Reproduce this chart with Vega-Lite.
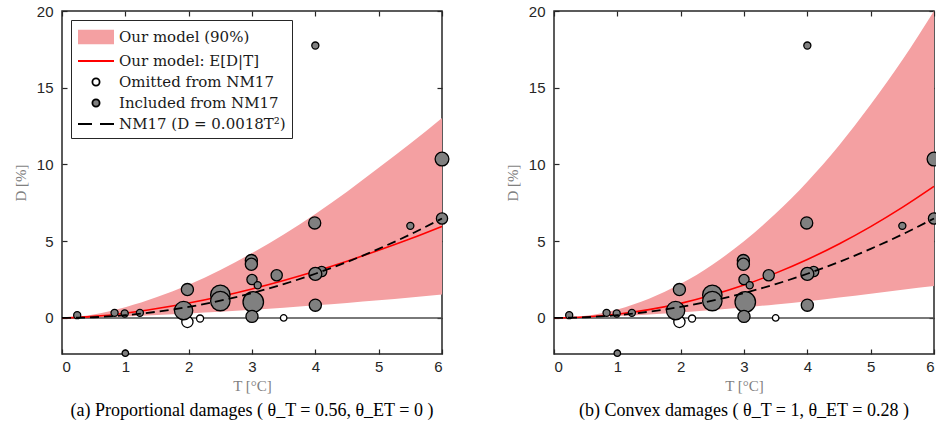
{
  "$schema": "https://vega.github.io/schema/vega-lite/v6.json",
  "background": "white",
  "padding": {"left": 12, "top": 3, "right": 0, "bottom": 0},
  "spacing": 112,
  "bounds": "flush",
  "config": {
    "view": {"stroke": "#262626", "strokeWidth": 1.5},
    "axis": {
      "domain": false,
      "tickColor": "#262626",
      "tickWidth": 1.2,
      "labelFont": "Liberation Sans Narrow, Liberation Sans",
      "labelFontSize": 15,
      "labelColor": "#262626",
      "titleFont": "Liberation Serif",
      "titleFontSize": 15,
      "titleFontWeight": "normal",
      "titleColor": "#7f7f7f",
      "grid": false
    },
    "title": {"font": "Liberation Serif", "fontSize": 18, "fontWeight": "normal", "color": "black"}
  },
  "datasets": {
    "curves": [
      {"model": "a", "T": 0, "lo": 0, "mean": 0, "hi": 0, "nm": 0},
      {"model": "a", "T": 0.5, "lo": 0.035, "mean": 0.1, "hi": 0.23, "nm": 0.045},
      {"model": "a", "T": 1, "lo": 0.1, "mean": 0.31, "hi": 0.7, "nm": 0.18},
      {"model": "a", "T": 1.5, "lo": 0.185, "mean": 0.61, "hi": 1.36, "nm": 0.405},
      {"model": "a", "T": 2, "lo": 0.29, "mean": 0.97, "hi": 2.17, "nm": 0.72},
      {"model": "a", "T": 2.5, "lo": 0.4, "mean": 1.4, "hi": 3.13, "nm": 1.125},
      {"model": "a", "T": 3, "lo": 0.53, "mean": 1.89, "hi": 4.23, "nm": 1.62},
      {"model": "a", "T": 3.5, "lo": 0.67, "mean": 2.44, "hi": 5.44, "nm": 2.205},
      {"model": "a", "T": 4, "lo": 0.82, "mean": 3.04, "hi": 6.78, "nm": 2.88},
      {"model": "a", "T": 4.5, "lo": 0.98, "mean": 3.7, "hi": 8.23, "nm": 3.645},
      {"model": "a", "T": 5, "lo": 1.15, "mean": 4.41, "hi": 9.78, "nm": 4.5},
      {"model": "a", "T": 5.5, "lo": 1.33, "mean": 5.16, "hi": 11.36, "nm": 5.445},
      {"model": "a", "T": 6, "lo": 1.52, "mean": 5.97, "hi": 13.03, "nm": 6.48},
      {"model": "b", "T": 0, "lo": 0, "mean": 0, "hi": 0, "nm": 0},
      {"model": "b", "T": 0.5, "lo": 0.04, "mean": 0.06, "hi": 0.14, "nm": 0.045},
      {"model": "b", "T": 1, "lo": 0.12, "mean": 0.24, "hi": 0.555, "nm": 0.18},
      {"model": "b", "T": 1.5, "lo": 0.23, "mean": 0.54, "hi": 1.25, "nm": 0.405},
      {"model": "b", "T": 2, "lo": 0.36, "mean": 0.95, "hi": 2.22, "nm": 0.72},
      {"model": "b", "T": 2.5, "lo": 0.52, "mean": 1.49, "hi": 3.47, "nm": 1.125},
      {"model": "b", "T": 3, "lo": 0.68, "mean": 2.14, "hi": 5.0, "nm": 1.62},
      {"model": "b", "T": 3.5, "lo": 0.88, "mean": 2.92, "hi": 6.8, "nm": 2.205},
      {"model": "b", "T": 4, "lo": 1.09, "mean": 3.81, "hi": 8.88, "nm": 2.88},
      {"model": "b", "T": 4.5, "lo": 1.33, "mean": 4.82, "hi": 11.24, "nm": 3.645},
      {"model": "b", "T": 5, "lo": 1.58, "mean": 5.95, "hi": 13.9, "nm": 4.5},
      {"model": "b", "T": 5.5, "lo": 1.84, "mean": 7.2, "hi": 16.8, "nm": 5.445},
      {"model": "b", "T": 6, "lo": 2.08, "mean": 8.57, "hi": 20.0, "nm": 6.48}
    ],
    "points": [
      {"grp": "Omitted", "T": 1.98, "D": -0.26, "w": 3},
      {"grp": "Omitted", "T": 2.18, "D": -0.04, "w": 1.2},
      {"grp": "Omitted", "T": 3.5, "D": 0.0, "w": 1},
      {"grp": "Included", "T": 0.24, "D": 0.18, "w": 1.2},
      {"grp": "Included", "T": 0.83, "D": 0.33, "w": 1.2},
      {"grp": "Included", "T": 0.99, "D": 0.29, "w": 1.2},
      {"grp": "Included", "T": 1.23, "D": 0.33, "w": 1.2},
      {"grp": "Included", "T": 1.0, "D": -2.3, "w": 1},
      {"grp": "Included", "T": 1.98, "D": 1.85, "w": 3.5},
      {"grp": "Included", "T": 1.92, "D": 0.48, "w": 8},
      {"grp": "Included", "T": 2.5, "D": 1.5, "w": 9},
      {"grp": "Included", "T": 2.5, "D": 1.1, "w": 9},
      {"grp": "Included", "T": 2.99, "D": 3.74, "w": 3.5},
      {"grp": "Included", "T": 2.99, "D": 3.5, "w": 3.5},
      {"grp": "Included", "T": 3.0, "D": 2.5, "w": 2.5},
      {"grp": "Included", "T": 3.09, "D": 2.13, "w": 1.2},
      {"grp": "Included", "T": 3.02, "D": 1.04, "w": 10},
      {"grp": "Included", "T": 3.0, "D": 0.1, "w": 3.5},
      {"grp": "Included", "T": 3.39, "D": 2.78, "w": 3},
      {"grp": "Included", "T": 3.99, "D": 6.19, "w": 3.5},
      {"grp": "Included", "T": 4.1, "D": 3.02, "w": 2.5},
      {"grp": "Included", "T": 4.0, "D": 2.87, "w": 4},
      {"grp": "Included", "T": 4.0, "D": 0.83, "w": 3.5},
      {"grp": "Included", "T": 4.0, "D": 17.75, "w": 1.2},
      {"grp": "Included", "T": 5.5, "D": 6.0, "w": 1.2},
      {"grp": "Included", "T": 6.0, "D": 6.48, "w": 3},
      {"grp": "Included", "T": 6.0, "D": 10.35, "w": 4.5}
    ],
    "keys": [
      {"s": "Our model (90%)"},
      {"s": "Our model: E[D|T]"},
      {"s": "Omitted from NM17"},
      {"s": "Included from NM17"},
      {"s": "NM17 (D = 0.0018T²)"}
    ]
  },
  "hconcat": [
    {
      "width": 380,
      "height": 343,
      "title": {"text": "(a) Proportional damages ( θ_T = 0.56, θ_ET = 0 )", "orient": "bottom", "offset": 9},
      "resolve": {"axis": {"x": "independent", "y": "independent"}},
      "layer": [
        {
          "data": {"name": "curves"},
          "transform": [{"filter": "datum.model == 'a'"}],
          "mark": {"type": "area", "color": "#f4a0a2", "interpolate": "monotone"},
          "encoding": {
            "x": {"field": "T", "type": "quantitative", "scale": {"domain": [0, 6], "nice": false},
              "axis": {"orient": "bottom", "values": [0, 1, 2, 3, 4, 5, 6], "tickSize": -5, "labelPadding": 10, "title": "T [°C]", "titlePadding": 4}},
            "y": {"field": "lo", "type": "quantitative", "scale": {"domain": [-2.35, 20], "nice": false},
              "axis": {"orient": "left", "values": [0, 5, 10, 15, 20], "tickSize": -5, "labelPadding": 14, "title": "D [%]", "titlePadding": 8}},
            "y2": {"field": "hi"}
          }
        },
        {
          "data": {"values": [{}]},
          "mark": {"type": "rule", "color": "#4d4d4d", "strokeWidth": 1.5},
          "encoding": {"y": {"datum": 0, "type": "quantitative", "axis": null}}
        },
        {
          "data": {"name": "curves"},
          "transform": [{"filter": "datum.model == 'a'"}],
          "mark": {"type": "line", "color": "#ff0000", "strokeWidth": 1.6, "interpolate": "monotone"},
          "encoding": {
            "x": {"field": "T", "type": "quantitative",
              "axis": {"orient": "top", "values": [0, 1, 2, 3, 4, 5, 6], "tickSize": -5, "labels": false, "title": null}},
            "y": {"field": "mean", "type": "quantitative",
              "axis": {"orient": "right", "values": [0, 5, 10, 15, 20], "tickSize": -5, "labels": false, "title": null}}
          }
        },
        {
          "data": {"name": "points"},
          "mark": {"type": "circle", "opacity": 1, "stroke": "black", "strokeWidth": 1.3},
          "encoding": {
            "x": {"field": "T", "type": "quantitative", "axis": null},
            "y": {"field": "D", "type": "quantitative", "axis": null},
            "size": {"field": "w", "type": "quantitative", "scale": {"domain": [0, 10], "range": [0, 420]}, "legend": null},
            "fill": {"condition": {"test": "datum.grp == 'Omitted'", "value": "white"}, "value": "#808080"}
          }
        },
        {
          "data": {"name": "curves"},
          "transform": [{"filter": "datum.model == 'a'"}],
          "mark": {"type": "line", "color": "black", "strokeWidth": 1.8, "strokeDash": [9, 5], "interpolate": "monotone"},
          "encoding": {
            "x": {"field": "T", "type": "quantitative", "axis": null},
            "y": {"field": "nm", "type": "quantitative", "axis": null}
          }
        },
        {
          "data": {"name": "keys"},
          "mark": {"type": "point", "clip": true, "filled": true, "opacity": 1, "strokeWidth": 1.8},
          "encoding": {
            "x": {"datum": -1, "type": "quantitative", "axis": null},
            "y": {"datum": -10, "type": "quantitative", "axis": null},
            "fill": {"field": "s", "type": "nominal",
              "scale": {"domain": ["Our model (90%)", "Our model: E[D|T]", "Omitted from NM17", "Included from NM17", "NM17 (D = 0.0018T²)"],
                "range": ["#f4a0a2", "transparent", "white", "#808080", "transparent"]},
              "legend": {"orient": "top-left", "offset": 9, "title": null, "fillColor": "white", "strokeColor": "#262626", "padding": 6,
                "labelFont": "DejaVu Serif", "labelFontSize": 15, "labelColor": "#1a1a1a", "labelLimit": 300, "labelOffset": 20,
                "symbolSize": 400, "symbolStrokeWidth": 1.8, "symbolOpacity": 1, "rowPadding": 2}},
            "stroke": {"field": "s", "type": "nominal",
              "scale": {"domain": ["Our model (90%)", "Our model: E[D|T]", "Omitted from NM17", "Included from NM17", "NM17 (D = 0.0018T²)"],
                "range": ["transparent", "#ff0000", "black", "black", "black"]},
              "legend": {"orient": "top-left", "offset": 9, "title": null}},
            "shape": {"field": "s", "type": "nominal",
              "scale": {"domain": ["Our model (90%)", "Our model: E[D|T]", "Omitted from NM17", "Included from NM17", "NM17 (D = 0.0018T²)"],
                "range": ["M-1,-0.72H2.6V0.72H-1Z", "M-1,0H2.6", "M0.44,0a0.36,0.36 0 1,0 0.72,0a0.36,0.36 0 1,0 -0.72,0Z", "M0.44,0a0.36,0.36 0 1,0 0.72,0a0.36,0.36 0 1,0 -0.72,0Z", "M-1,0H0.4M1.2,0H2.6"]},
              "legend": {"orient": "top-left", "offset": 9, "title": null}}
          }
        }
      ]
    },
    {
      "width": 380,
      "height": 343,
      "title": {"text": "(b) Convex damages ( θ_T = 1, θ_ET = 0.28 )", "orient": "bottom", "offset": 9},
      "resolve": {"axis": {"x": "independent", "y": "independent"}},
      "layer": [
        {
          "data": {"name": "curves"},
          "transform": [{"filter": "datum.model == 'b'"}],
          "mark": {"type": "area", "color": "#f4a0a2", "interpolate": "monotone"},
          "encoding": {
            "x": {"field": "T", "type": "quantitative", "scale": {"domain": [0, 6], "nice": false},
              "axis": {"orient": "bottom", "values": [0, 1, 2, 3, 4, 5, 6], "tickSize": -5, "labelPadding": 10, "title": "T [°C]", "titlePadding": 4}},
            "y": {"field": "lo", "type": "quantitative", "scale": {"domain": [-2.35, 20], "nice": false},
              "axis": {"orient": "left", "values": [0, 5, 10, 15, 20], "tickSize": -5, "labelPadding": 14, "title": "D [%]", "titlePadding": 8}},
            "y2": {"field": "hi"}
          }
        },
        {
          "data": {"values": [{}]},
          "mark": {"type": "rule", "color": "#4d4d4d", "strokeWidth": 1.5},
          "encoding": {"y": {"datum": 0, "type": "quantitative", "axis": null}}
        },
        {
          "data": {"name": "curves"},
          "transform": [{"filter": "datum.model == 'b'"}],
          "mark": {"type": "line", "color": "#ff0000", "strokeWidth": 1.6, "interpolate": "monotone"},
          "encoding": {
            "x": {"field": "T", "type": "quantitative",
              "axis": {"orient": "top", "values": [0, 1, 2, 3, 4, 5, 6], "tickSize": -5, "labels": false, "title": null}},
            "y": {"field": "mean", "type": "quantitative",
              "axis": {"orient": "right", "values": [0, 5, 10, 15, 20], "tickSize": -5, "labels": false, "title": null}}
          }
        },
        {
          "data": {"name": "points"},
          "mark": {"type": "circle", "opacity": 1, "stroke": "black", "strokeWidth": 1.3},
          "encoding": {
            "x": {"field": "T", "type": "quantitative", "axis": null},
            "y": {"field": "D", "type": "quantitative", "axis": null},
            "size": {"field": "w", "type": "quantitative", "scale": {"domain": [0, 10], "range": [0, 420]}, "legend": null},
            "fill": {"condition": {"test": "datum.grp == 'Omitted'", "value": "white"}, "value": "#808080"}
          }
        },
        {
          "data": {"name": "curves"},
          "transform": [{"filter": "datum.model == 'b'"}],
          "mark": {"type": "line", "color": "black", "strokeWidth": 1.8, "strokeDash": [9, 5], "interpolate": "monotone"},
          "encoding": {
            "x": {"field": "T", "type": "quantitative", "axis": null},
            "y": {"field": "nm", "type": "quantitative", "axis": null}
          }
        }
      ]
    }
  ]
}
